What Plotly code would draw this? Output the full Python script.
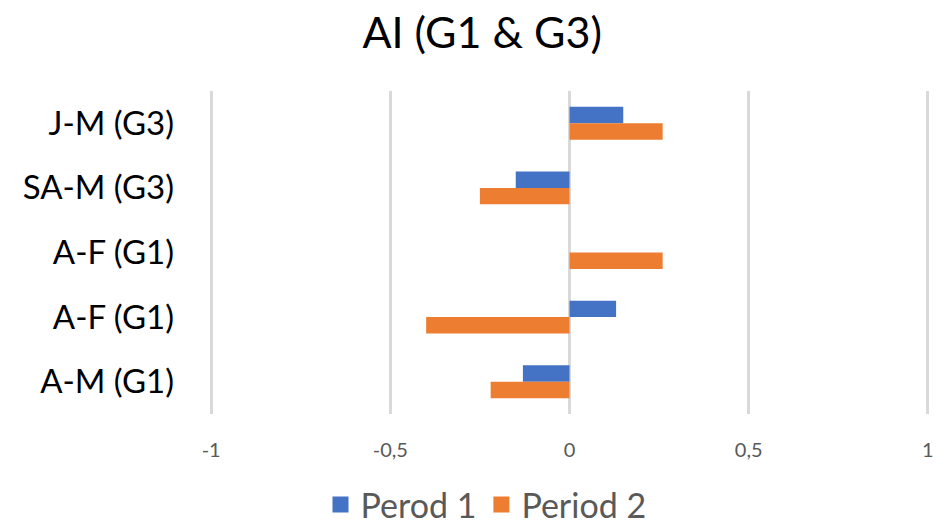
import plotly.graph_objects as go

# Categories listed top to bottom
categories = ["J-M (G3)", "SA-M (G3)", "A-F (G1)", "A-F (G1)", "A-M (G1)"]
period1 = [0.15, -0.15, 0.0, 0.13, -0.13]
period2 = [0.26, -0.25, 0.26, -0.40, -0.22]
series_names = ["Perod 1", "Period 2"]
colors = ["#4472C4", "#ED7D31"]
x_ticks = [-1, -0.5, 0, 0.5, 1]
x_tick_labels = ["-1", "-0,5", "0", "0,5", "1"]

positions = list(range(len(categories)))
FONT = "Lato, 'Open Sans', sans-serif"

fig = go.Figure()
for name, vals, col in zip(series_names, [period1, period2], colors):
    fig.add_trace(go.Bar(
        x=vals, y=positions, orientation="h", name=name,
        marker=dict(color=col, line=dict(width=0)),
        showlegend=False,
    ))
    # legend entry with a larger square swatch
    fig.add_trace(go.Scatter(
        x=[None], y=[None], mode="markers", name=name,
        marker=dict(symbol="square", size=21, color=col),
    ))

fig.update_layout(
    width=951, height=525,
    margin=dict(l=209, r=21, t=91, b=111, autoexpand=False),
    paper_bgcolor="white", plot_bgcolor="white",
    barmode="group", bargap=0.49,
    title=dict(text="AI (G1 & G3)", x=0.507, xanchor="center",
               y=1 - 33 / 525, yanchor="middle",
               font=dict(family=FONT, size=43, color="#000000")),
    xaxis=dict(range=[-1.006, 1.006], tickvals=x_ticks, ticktext=x_tick_labels,
               showgrid=True, gridcolor="#D9D9D9", gridwidth=3,
               zeroline=True, zerolinecolor="#D9D9D9", zerolinewidth=3,
               showline=False, ticks="", ticklabelstandoff=22,
               tickfont=dict(family=FONT, size=20, color="#595959")),
    yaxis=dict(range=[4.5, -0.5], tickvals=positions, ticktext=categories,
               showgrid=False, zeroline=False, showline=False, ticks="",
               ticklabelstandoff=34,
               tickfont=dict(family=FONT, size=33, color="#000000")),
    legend=dict(orientation="h", xref="container", x=486 / 951, xanchor="center",
                yref="container", y=(525 - 505) / 525, yanchor="middle",
                font=dict(family=FONT, size=34, color="#595959"),
                itemwidth=30),
)

fig.write_html("out.html")
